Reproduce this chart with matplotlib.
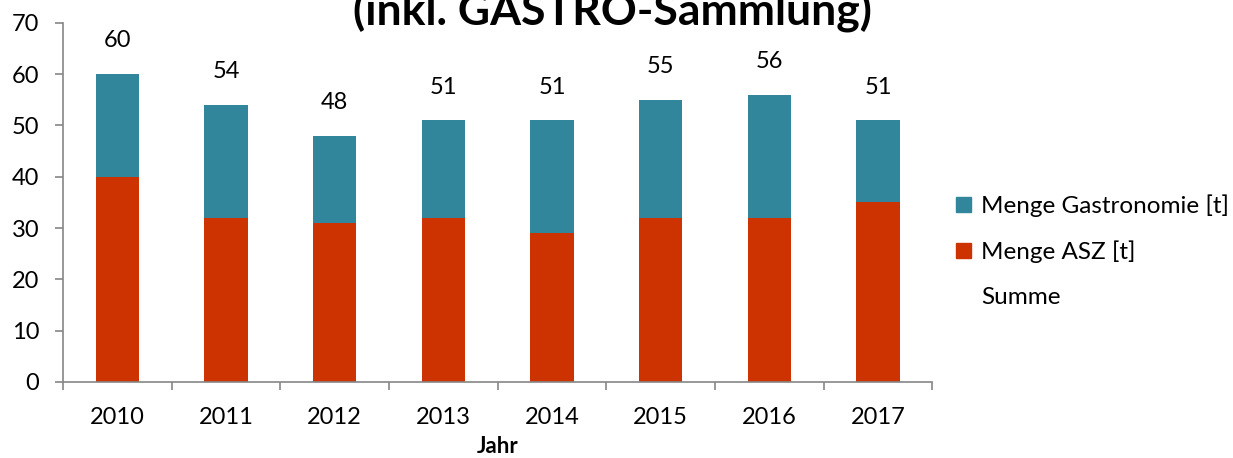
import matplotlib
matplotlib.use("Agg")
import matplotlib.pyplot as plt
from matplotlib.patches import Patch
import numpy as np

plt.rcParams['font.family'] = ['Lato', 'DejaVu Sans']

# data
years = ['2010', '2011', '2012', '2013', '2014', '2015', '2016', '2017']
menge_asz = [40, 32, 31, 32, 29, 32, 32, 35]
menge_gastro = [20, 22, 17, 19, 22, 23, 24, 16]
summe = [60, 54, 48, 51, 51, 55, 56, 51]

red = '#CD3300'
teal = '#31869B'
grey = '#868686'

fig = plt.figure(figsize=(12.33, 4.58), dpi=100)
ax = fig.add_axes([0.0511, 0.166, 0.705, 0.784])

x = np.arange(len(years))
ax.bar(x, menge_asz, width=0.4, color=red, zorder=2)
ax.bar(x, menge_gastro, width=0.4, bottom=menge_asz, color=teal, zorder=2)
ax.plot(x, summe, linestyle='none')

# labels of the Summe series above the bars
for xi, s in zip(x, summe):
    ax.annotate(str(s), (xi, s), xytext=(0, 24), textcoords='offset points',
                ha='center', va='center', fontsize=17)

ax.set_xlim(-0.5, len(years) - 0.5)
ax.set_ylim(0, 70)
ax.set_yticks(range(0, 71, 10))
ax.set_xticks(x)
ax.set_xticklabels(years)
ax.set_xticks(np.arange(-0.5, len(years), 1.0), minor=True)
ax.tick_params(axis='x', which='major', length=0, pad=18, labelsize=17)
ax.tick_params(axis='x', which='minor', length=6, width=1.2, color=grey)
ax.tick_params(axis='y', length=6, width=1.2, color=grey, pad=11, labelsize=17)

for side in ['top', 'right']:
    ax.spines[side].set_visible(False)
for side in ['left', 'bottom']:
    ax.spines[side].set_color(grey)
    ax.spines[side].set_linewidth(1.2)

ax.set_xlabel('Jahr', fontsize=16, fontweight='bold', labelpad=6)

fig.text(0.497, 0.945, '(inkl. GASTRO-Sammlung)', ha='center', va='baseline',
         fontsize=32, fontweight='bold')

handles = [Patch(color=teal), Patch(color=red), Patch(color='none')]
labels = ['Menge Gastronomie [t]', 'Menge ASZ [t]', 'Summe']
fig.legend(handles, labels, loc='center left', bbox_to_anchor=(0.758, 0.452),
           frameon=False, fontsize=17.5, handlelength=0.6, handleheight=0.6,
           handletextpad=0.4, labelspacing=0.97)

fig.savefig('out.png', dpi=100)
